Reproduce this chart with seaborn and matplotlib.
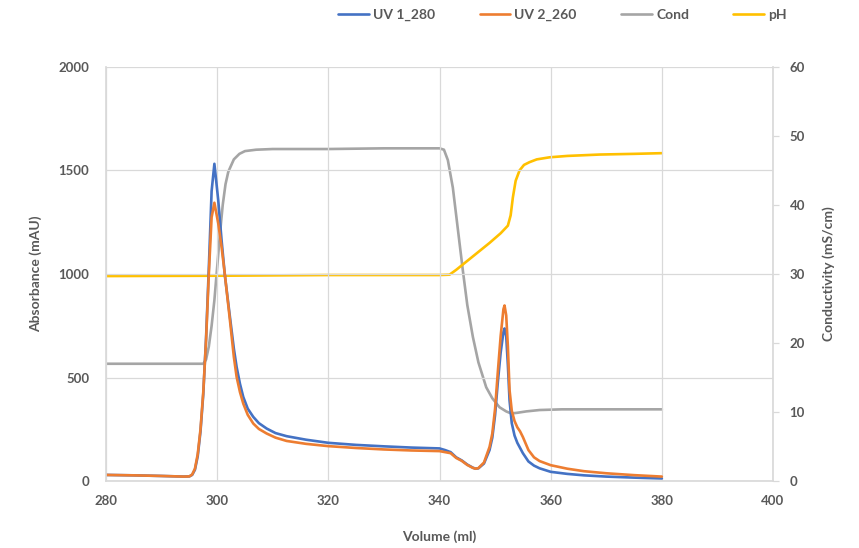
import matplotlib
matplotlib.use("Agg")
import matplotlib.pyplot as plt
import numpy as np
import pandas as pd
import seaborn as sns

# UV traces (mAU)
uv_volume = [280, 285, 290, 294, 295, 295.5, 296, 296.5, 297, 297.5, 298, 298.5,
             299, 299.5, 300.2, 300.8, 301.4, 302.3, 303, 303.5, 304.1, 304.7,
             305.5, 306.5, 307.5, 308.9, 310.5, 312.5, 316, 320, 325, 330, 335,
             340, 341, 342, 343, 344, 345, 346, 346.5, 347, 348, 349, 349.5,
             350, 350.5, 351, 351.5, 351.7, 352, 352.3, 352.6, 353, 353.5, 354,
             354.5, 355, 356, 357, 358, 360, 363, 366, 370, 375, 380]
uv1_280 = [30, 28, 25, 22, 23, 30, 55, 120, 240, 420, 690, 1030,
           1400, 1532, 1354, 1161, 990, 792, 640, 551, 470, 406,
           350, 310, 280, 254, 232, 217, 200, 185, 175, 168, 162,
           158, 150, 140, 115, 100, 80, 65, 60, 62, 85, 150, 210,
           320, 480, 620, 720, 737, 700, 560, 390, 280, 220, 185,
           160, 135, 95, 75, 62, 45, 35, 28, 22, 17, 13]
uv2_260 = [30, 28, 25, 22, 23, 32, 60, 130, 250, 430, 680, 1000,
           1274, 1344, 1243, 1129, 993, 776, 600, 503, 430, 374,
           320, 278, 252, 230, 210, 194, 180, 169, 160, 153, 148,
           145, 140, 135, 112, 98, 78, 64, 60, 63, 90, 165, 230,
           350, 530, 700, 830, 848, 800, 650, 440, 340, 290, 260,
           240, 213, 150, 115, 97, 77, 60, 48, 38, 29, 22]

# conductivity (mS/cm)
cond_volume = [280, 297.5, 298, 298.5, 299, 299.5, 300, 300.5, 301, 301.5, 302,
               303, 304, 305, 307, 310, 320, 330, 340, 340.8, 341.5, 342.4,
               343.3, 344.2, 345, 346, 347, 348.4, 349.5, 350.8, 352, 352.9,
               354, 355.6, 358, 362, 370, 380]
cond = [17.0, 17.0, 17.6, 19.5, 22.5, 26.2, 31, 35.8, 40, 43, 44.8,
        46.6, 47.4, 47.8, 48.0, 48.1, 48.1, 48.2, 48.2, 48.0, 46.5, 42.5,
        36.5, 30.5, 25.5, 20.9, 17.2, 13.6, 12.0, 10.7, 10.1, 9.8,
        9.9, 10.1, 10.3, 10.4, 10.4, 10.4]

# pH trace, drawn against the conductivity axis
ph_volume = [280, 300, 320, 340, 341.8, 343, 345, 347, 349, 351, 352.3, 352.8,
             353.2, 353.7, 354.4, 355.2, 356.2, 357.5, 359.8, 363, 368.8, 375, 380]
ph = [29.7, 29.75, 29.85, 29.85, 29.9, 30.6, 31.9, 33.2, 34.5, 35.9, 37.0, 38.5,
      41.1, 43.5, 45.0, 45.8, 46.2, 46.6, 46.9, 47.1, 47.3, 47.4, 47.5]

x_ticks = [280, 300, 320, 340, 360, 380, 400]
abs_ticks = [0, 500, 1000, 1500, 2000]
cond_ticks = [0, 10, 20, 30, 40, 50, 60]

BLUE, ORANGE, GREY, YELLOW = "#4472C4", "#ED7D31", "#A5A5A5", "#FFC000"
TEXT = "#595959"
GRID = "#D9D9D9"

sns.set_theme(style="white")
plt.rcParams["font.family"] = ["Lato", "DejaVu Sans"]
plt.rcParams["font.weight"] = "bold"

uv = pd.DataFrame({"volume": uv_volume, "UV 1_280": uv1_280, "UV 2_260": uv2_260})

fig = plt.figure(figsize=(8.59, 5.48), dpi=100)
ax = fig.add_axes([0.1234, 0.122, 0.7765, 0.756])
ax2 = ax.twinx()

lw = 1.9
sns.lineplot(data=uv, x="volume", y="UV 1_280", ax=ax, color=BLUE, lw=lw,
             estimator=None, label="UV 1_280", legend=False)
sns.lineplot(data=uv, x="volume", y="UV 2_260", ax=ax, color=ORANGE, lw=lw,
             estimator=None, label="UV 2_260", legend=False)
sns.lineplot(x=cond_volume, y=cond, ax=ax2, color=GREY, lw=lw,
             estimator=None, label="Cond", legend=False)
sns.lineplot(x=ph_volume, y=ph, ax=ax2, color=YELLOW, lw=lw,
             estimator=None, label="pH", legend=False)

# keep the UV traces above the secondary axis lines
ax.set_zorder(ax2.get_zorder() + 1)
ax.patch.set_visible(False)
ax2.patch.set_visible(True)
ax2.patch.set_facecolor("white")

ax.set_xlim(280, 400)
ax.set_ylim(0, 2000)
ax2.set_ylim(0, 60)
ax.set_xticks(x_ticks)
ax.set_yticks(abs_ticks)
ax2.set_yticks(cond_ticks)

ax2.grid(False)
ax.grid(True, color=GRID, lw=0.9)
ax.set_axisbelow(True)

for a in (ax, ax2):
    for s in a.spines.values():
        s.set_visible(False)
ax.spines["bottom"].set_visible(True)
ax.spines["bottom"].set_color(GRID)
ax.spines["left"].set_visible(True)
ax.spines["left"].set_color(GRID)
ax2.spines["right"].set_visible(True)
ax2.spines["right"].set_color(GRID)

ax.tick_params(axis="both", length=0, labelsize=9.5, labelcolor=TEXT)
ax.tick_params(axis="x", pad=10)
ax.tick_params(axis="y", pad=12)
ax2.tick_params(axis="y", length=4, color=GRID, width=0.9, labelsize=9.5,
                labelcolor=TEXT, pad=8)

ax.set_xlabel("Volume (ml)", fontsize=10, color=TEXT, fontweight="bold", labelpad=17)
ax.set_ylabel("Absorbance (mAU)", fontsize=10, color=TEXT, fontweight="bold", labelpad=12)
ax2.set_ylabel("Conductivity (mS/cm)", fontsize=10, color=TEXT, fontweight="bold", labelpad=12)

handles = ax.get_lines()[:2] + ax2.get_lines()[:2]
labels = ["UV 1_280", "UV 2_260", "Cond", "pH"]
fig.legend(handles, labels, loc="center", bbox_to_anchor=(0.655, 0.972), ncol=4,
           frameon=False, fontsize=10, labelcolor=TEXT, handlelength=2.2,
           handletextpad=0.3, columnspacing=3.2)

fig.savefig("out.png", dpi=100, facecolor="white")
